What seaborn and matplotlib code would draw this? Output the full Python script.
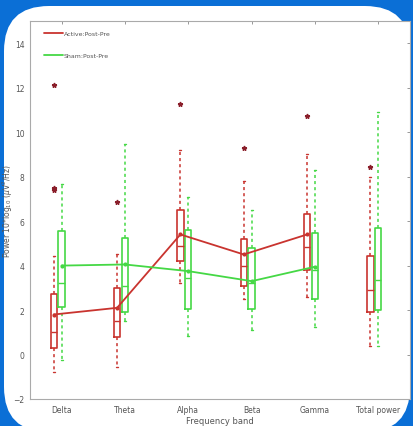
import numpy as np
import pandas as pd
import seaborn as sns
import matplotlib
matplotlib.use("Agg")
import matplotlib.pyplot as plt
from matplotlib.patches import FancyBboxPatch

bands = ["Delta", "Theta", "Alpha", "Beta", "Gamma", "Total power"]

# Active: Post-Pre box statistics
act_whislo = [-0.8, -0.55, 3.2, 2.5, 2.6, 0.37]
act_q1     = [0.3, 0.77, 4.2, 3.1, 3.8, 1.93]
act_med    = [1.0, 1.5, 4.9, 4.0, 4.85, 2.9]
act_q3     = [2.7, 3.0, 6.5, 5.2, 6.3, 4.45]
act_whishi = [4.45, 4.5, 9.2, 7.8, 9.0, 8.0]
act_fliers = [[7.4, 7.5, 12.1], [6.85], [11.25], [9.3], [10.75], [8.45]]
act_mean   = [1.8, 2.1, 5.4, 4.5, 5.4]

# Sham: Post-Pre box statistics
sham_whislo = [-0.25, 1.5, 0.85, 1.1, 1.25, 0.4]
sham_q1     = [2.15, 1.93, 2.07, 2.07, 2.5, 2.0]
sham_med    = [3.2, 3.1, 3.45, 3.2, 3.8, 3.35]
sham_q3     = [5.55, 5.25, 5.6, 4.8, 5.45, 5.7]
sham_whishi = [7.65, 9.45, 7.1, 6.5, 8.3, 10.9]
sham_mean   = [4.0, 4.05, 3.75, 3.3, 3.95]

RED = "#c9342f"
GREEN = "#45d845"
BLUE = "#0b6fd6"

sns.set_theme(style="white")
plt.rcParams['font.family'] = ['DejaVu Sans']

fig = plt.figure(figsize=(4.14, 4.27), dpi=100, facecolor=BLUE)
card = FancyBboxPatch((0.04, -0.06), 4.06, 4.26,
                      boxstyle="round,pad=0,rounding_size=0.45",
                      transform=fig.dpi_scale_trans, facecolor="white",
                      edgecolor="none", zorder=-5)
fig.patches.append(card)

ax = fig.add_axes([30/414, 27/427, 380/414, 378/427])
ax.set_facecolor("white")

pos = np.arange(1, len(bands) + 1)
off = -0.125

def stats(wl, q1, md, q3, wh, fl):
    out = []
    for i in range(len(wl)):
        out.append(dict(whislo=wl[i], q1=q1[i], med=md[i], q3=q3[i],
                        whishi=wh[i], fliers=fl[i] if fl else []))
    return out

def draw(st, positions, color, flier_color):
    ax.bxp(st, positions=positions, widths=0.1, showfliers=True,
           boxprops=dict(color=color, lw=1.2),
           medianprops=dict(color=color, lw=1.0),
           whiskerprops=dict(color=color, lw=1.1, linestyle=(0, (2, 2))),
           capprops=dict(color=color, lw=1.0),
           capwidths=0.03,
           flierprops=dict(marker='*', markersize=3.5, markerfacecolor=flier_color,
                           markeredgecolor=flier_color, linestyle='none'),
           manage_ticks=False)

draw(stats(act_whislo, act_q1, act_med, act_q3, act_whishi, act_fliers),
     pos + off, RED, "#8a1e2a")
draw(stats(sham_whislo, sham_q1, sham_med, sham_q3, sham_whishi, None),
     pos, GREEN, GREEN)

df_a = pd.DataFrame({"x": pos[:len(act_mean)] + off, "y": act_mean})
df_s = pd.DataFrame({"x": pos[:len(sham_mean)], "y": sham_mean})
sns.lineplot(data=df_a, x="x", y="y", color=RED, lw=1.3, marker='o', markersize=3,
             markeredgewidth=0, ax=ax, label="Active:Post-Pre", sort=False)
sns.lineplot(data=df_s, x="x", y="y", color=GREEN, lw=1.3, marker='o', markersize=3,
             markeredgewidth=0, ax=ax, label="Sham:Post-Pre", sort=False)

ax.set_xlim(0.5, 6.5)
ax.set_ylim(-2, 15)
ax.set_xticks(pos)
ax.set_xticklabels(bands)
ax.set_yticks(np.arange(-2, 15, 2))
ax.tick_params(axis='both', direction='in', length=2.5, width=0.6, color="#888888",
               labelsize=5.5, labelcolor="#555555", top=True, right=True, pad=4)
ax.tick_params(axis='x', pad=4)
for s in ax.spines.values():
    s.set_color("#aaaaaa")
    s.set_linewidth(0.8)
ax.set_xlabel("Frequency band", fontsize=6, color="#555555", labelpad=1)
ax.set_ylabel("Power 10*log$_{10}$ ($\\mu$V$^2$/Hz)", fontsize=5.5, color="#555555")
ax.yaxis.set_label_coords(-0.040, 0.5)
ax.xaxis.set_label_coords(0.5, -0.045)

leg = ax.legend(loc="upper left", frameon=False, fontsize=4.5, handlelength=3.0,
                handletextpad=0.2, labelspacing=2.6, borderaxespad=1.2,
                bbox_to_anchor=(0.01, 1.0))
for t in leg.get_texts():
    t.set_color("#555555")
for l in leg.get_lines():
    l.set_marker('')

fig.savefig("out.png", dpi=100, facecolor=BLUE)
